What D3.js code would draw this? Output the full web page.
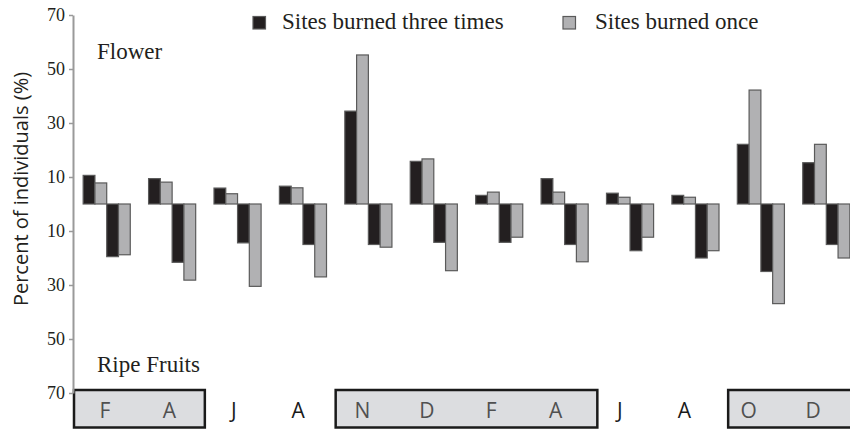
<!DOCTYPE html>
<html>
<head>
<meta charset="utf-8">
<script src="https://cdn.jsdelivr.net/npm/d3@7"></script>
<style>
  html, body { margin: 0; padding: 0; background: #fff; }
  svg { display: block; }
</style>
</head>
<body>
<svg id="chart" width="850" height="429"></svg>
<script>
// ---- data ----
const months = ["F", "A", "J", "A", "N", "D", "F", "A", "J", "A", "O", "D"];
const flowerThree = [10.6, 9.4, 5.9, 6.6, 34.4, 15.8, 3.2, 9.4, 4.0, 3.2, 22.1, 15.3];
const flowerOnce  = [7.8, 8.1, 3.8, 6.0, 55.2, 16.7, 4.4, 4.4, 2.5, 2.5, 42.2, 22.1];
const fruitThree  = [19.5, 21.6, 14.4, 15.0, 15.0, 14.2, 14.2, 15.0, 17.3, 20.0, 25.0, 15.0];
const fruitOnce   = [18.8, 28.2, 30.5, 27.0, 16.0, 24.7, 12.3, 21.4, 12.3, 17.3, 36.9, 20.0];
const yTicks = [70, 50, 30, 10];
const seriesNames = ["Sites burned three times", "Sites burned once"];
const boxes = [[0, 1], [4, 7], [10, 11]];   // month index ranges drawn in shaded boxes

// ---- setup ----
const svg = d3.select("#chart");
const W = 850, H = 429;
const serif = "'Liberation Serif', 'Times New Roman', serif";
const sans = "'Open Sans', 'Noto Sans', sans-serif";
const darkFill = "#231f20", greyFill = "#b1b1b3", barStroke = "#5a5a5a";

const idx = d3.range(months.length);
const x = d3.scaleBand().domain(idx).range([74, 859]).paddingInner(0.28).paddingOuter(0.14);
const sub = d3.scaleBand().domain(["fl3", "fl1", "fr3", "fr1"]).range([0, x.bandwidth()]);
const y = d3.scaleLinear().domain([-70, 70]).range([393, 15]);
const xLab = d3.scalePoint().domain(idx).range([105, 813]);

// ---- month boxes ----
const pad = x.step() * 0.14;
svg.append("g").selectAll("rect").data(boxes).join("rect")
  .attr("x", d => x(d[0]) - pad)
  .attr("y", 390)
  .attr("width", d => x(d[1]) + x.bandwidth() + pad - (x(d[0]) - pad))
  .attr("height", 37.5)
  .attr("fill", "#dcdde0")
  .attr("stroke", "#1a1a1a")
  .attr("stroke-width", 2.5);

const inBox = i => boxes.some(b => i >= b[0] && i <= b[1]);
svg.append("g").selectAll("text").data(idx).join("text")
  .attr("x", i => xLab(i))
  .attr("y", 418)
  .attr("text-anchor", "middle")
  .attr("font-family", sans)
  .attr("font-size", 21)
  .attr("fill", i => inBox(i) ? "#505050" : "#1a1a1a")
  .text(i => months[i]);

// ---- y axis ----
const axis = d3.axisLeft(y)
  .tickValues(yTicks.concat(yTicks.map(v => -v)))
  .tickFormat(v => Math.abs(v))
  .tickSizeInner(4).tickSizeOuter(0).tickPadding(4);
const gAxis = svg.append("g").attr("transform", "translate(73,0)").call(axis);
gAxis.select(".domain").attr("stroke", "#9a9a9a").attr("stroke-width", 2);
gAxis.selectAll(".tick line").attr("stroke", "#9a9a9a").attr("stroke-width", 1.5);
gAxis.selectAll(".tick text")
  .attr("font-family", serif).attr("font-size", 18).attr("fill", "#231f20");

// ---- bars ----
const rows = idx.map(i => ({ i, fl3: flowerThree[i], fl1: flowerOnce[i], fr3: fruitThree[i], fr1: fruitOnce[i] }));
const bars = [];
rows.forEach(r => {
  bars.push({ i: r.i, k: "fl3", v: r.fl3, up: true, fill: darkFill });
  bars.push({ i: r.i, k: "fl1", v: r.fl1, up: true, fill: greyFill });
  bars.push({ i: r.i, k: "fr3", v: r.fr3, up: false, fill: darkFill });
  bars.push({ i: r.i, k: "fr1", v: r.fr1, up: false, fill: greyFill });
});
svg.append("g").selectAll("rect").data(bars).join("rect")
  .attr("x", d => x(d.i) + sub(d.k))
  .attr("width", sub.bandwidth())
  .attr("y", d => d.up ? y(d.v) : y(0))
  .attr("height", d => d.up ? y(0) - y(d.v) : y(-d.v) - y(0))
  .attr("fill", d => d.fill)
  .attr("stroke", barStroke)
  .attr("stroke-width", 1.2);

// ---- panel labels ----
svg.append("text").attr("x", 97).attr("y", 59)
  .attr("font-family", serif).attr("font-size", 23).attr("fill", "#231f20").text("Flower");
svg.append("text").attr("x", 97).attr("y", 372)
  .attr("font-family", serif).attr("font-size", 23).attr("fill", "#231f20").text("Ripe Fruits");

// ---- y title ----
svg.append("text")
  .attr("transform", "translate(28,189) rotate(-90)")
  .attr("text-anchor", "middle")
  .attr("font-family", sans).attr("font-size", 20).attr("fill", "#231f20")
  .text("Percent of individuals (%)");

// ---- legend ----
const legend = [
  { name: seriesNames[0], fill: darkFill, sx: 253, tx: 282 },
  { name: seriesNames[1], fill: greyFill, sx: 563, tx: 595 }
];
const lg = svg.append("g").selectAll("g").data(legend).join("g");
lg.append("rect")
  .attr("x", d => d.sx).attr("y", 16.5).attr("width", 12.5).attr("height", 12.5)
  .attr("fill", d => d.fill).attr("stroke", barStroke).attr("stroke-width", 1.2);
lg.append("text")
  .attr("x", d => d.tx).attr("y", 28.5)
  .attr("font-family", serif).attr("font-size", 23).attr("fill", "#231f20")
  .text(d => d.name);
</script>
</body>
</html>
